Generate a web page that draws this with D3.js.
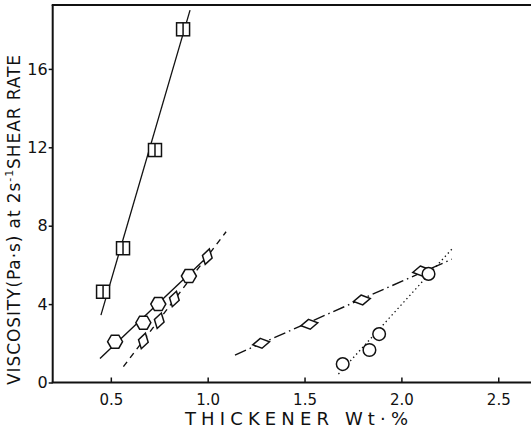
<!DOCTYPE html>
<html>
<head>
<meta charset="utf-8">
<script src="https://cdn.jsdelivr.net/npm/d3@7"></script>
<style>
  html, body { margin: 0; padding: 0; background: #fff; }
  svg { display: block; }
  text { font-family: "DejaVu Sans", sans-serif; fill: #111; }
</style>
</head>
<body>
<svg id="chart" width="531" height="435"></svg>
<script>
// Thickener concentration (wt %) vs viscosity (Pa·s) at 2 s^-1
const squareX  = [0.460, 0.563, 0.728, 0.873];
const squareY  = [4.63, 6.85, 11.86, 18.02];
const squareFitX = [0.449, 0.909];
const squareFitY = [3.44, 19.0];

const hexX  = [0.522, 0.668, 0.745, 0.903];
const hexY  = [2.08, 3.05, 4.00, 5.43];
const hexFitX = [0.444, 0.981];
const hexFitY = [1.23, 6.25];

const diamondAX = [0.668, 0.750, 0.828, 0.998];
const diamondAY = [2.12, 3.15, 4.26, 6.42];
const diamondAFitX = [0.565, 1.095];
const diamondAFitY = [0.81, 7.69];

const diamondBX = [1.276, 1.525, 1.796, 2.102];
const diamondBY = [2.00, 2.97, 4.21, 5.69];
const diamondBFitX = [1.141, 2.260];
const diamondBFitY = [1.40, 6.29];

const circleX = [1.697, 1.835, 1.885, 2.140];
const circleY = [0.94, 1.66, 2.47, 5.54];
const circleFitX = [1.675, 2.260];
const circleFitY = [0.43, 6.80];

const xTicks = [0.5, 1.0, 1.5, 2.0, 2.5];
const xTickLabels = ["0.5", "1.0", "1.5", "2.0", "2.5"];
const yTicks = [0, 4, 8, 12, 16];
const yTickLabels = ["0", "4", "8", "12", "16"];

const svg = d3.select("#chart");
const plotLeft = 52.7, plotRight = 531, plotTop = 5, plotBottom = 382.5;

const x = d3.scaleLinear().domain([0.2, 2.669]).range([plotLeft, plotRight]);
const y = d3.scaleLinear().domain([0, 19.26]).range([plotBottom, plotTop]);

const zip = (a, b) => a.map((v, i) => [v, b[i]]);
const line = d3.line().x(d => x(d[0])).y(d => y(d[1]));

// axes
const xAxis = d3.axisBottom(x).tickValues(xTicks)
  .tickFormat((d, i) => xTickLabels[i]).tickSize(-5).tickPadding(12);
const gx = svg.append("g").attr("transform", `translate(0,${plotBottom})`).call(xAxis);
gx.select(".domain").remove();
gx.selectAll(".tick line").attr("stroke", "#111").attr("stroke-width", 1.5);
gx.selectAll(".tick text").attr("font-size", 15).attr("font-family", "DejaVu Sans").attr("fill", "#111");

const yAxis = d3.axisLeft(y).tickValues(yTicks)
  .tickFormat((d, i) => yTickLabels[i]).tickSize(4).tickPadding(1);
const gy = svg.append("g").attr("transform", `translate(${plotLeft},0)`).call(yAxis);
gy.select(".domain").remove();
gy.selectAll(".tick line").attr("stroke", "#111").attr("stroke-width", 1.5);
gy.selectAll(".tick text").attr("font-size", 16).attr("font-family", "DejaVu Sans").attr("fill", "#111");

// frame: left, bottom and top edges
const frame = svg.append("g").attr("stroke", "#111").attr("stroke-width", 2).attr("fill", "none");
frame.append("line").attr("x1", plotLeft).attr("x2", plotLeft).attr("y1", plotTop).attr("y2", plotBottom);
frame.append("line").attr("x1", plotLeft - 1).attr("x2", plotRight).attr("y1", plotBottom).attr("y2", plotBottom);
frame.append("line").attr("x1", plotLeft - 1).attr("x2", plotRight).attr("y1", plotTop).attr("y2", plotTop);

// fit lines
const fits = [
  { xs: squareFitX, ys: squareFitY, dash: null, w: 1.3 },
  { xs: hexFitX, ys: hexFitY, dash: null, w: 1.4 },
  { xs: diamondAFitX, ys: diamondAFitY, dash: "6,5", w: 1.4 },
  { xs: diamondBFitX, ys: diamondBFitY, dash: "12,4,1.5,4", w: 1.4 },
  { xs: circleFitX, ys: circleFitY, dash: "1.4,3", w: 1.3 }
];
svg.append("g").selectAll("path").data(fits).join("path")
  .attr("d", d => line(zip(d.xs, d.ys)))
  .attr("fill", "none").attr("stroke", "#111")
  .attr("stroke-width", d => d.w)
  .attr("stroke-dasharray", d => d.dash);

// markers
const mk = svg.append("g").attr("stroke", "#111").attr("stroke-width", 1.5).attr("fill", "#fff");

// squares with a centre divider
const sq = mk.selectAll("g.sq").data(zip(squareX, squareY)).join("g")
  .attr("transform", d => `translate(${x(d[0])},${y(d[1])})`);
sq.append("rect").attr("x", -6.5).attr("y", -6.5).attr("width", 13).attr("height", 13);
sq.append("line").attr("x1", 0).attr("x2", 0).attr("y1", -6.5).attr("y2", 6.5);

// hexagons
const hexPath = (r) => {
  const pts = d3.range(6).map(k => {
    const a = Math.PI / 3 * k;
    return [r * Math.cos(a), r * Math.sin(a)];
  });
  return "M" + pts.map(p => p.join(",")).join("L") + "Z";
};
mk.selectAll("path.hex").data(zip(hexX, hexY)).join("path")
  .attr("d", hexPath(7.5))
  .attr("transform", d => `translate(${x(d[0])},${y(d[1])})`);

// tall diamonds
const diamond = (w, h) => `M0,${-h / 2}L${w / 2},0L0,${h / 2}L${-w / 2},0Z`;
mk.selectAll("path.da").data(zip(diamondAX, diamondAY)).join("path")
  .attr("d", diamond(10, 16))
  .attr("transform", d => `translate(${x(d[0])},${y(d[1])}) rotate(15)`);

// wide diamonds
mk.selectAll("path.db").data(zip(diamondBX, diamondBY)).join("path")
  .attr("d", diamond(17, 10))
  .attr("transform", d => `translate(${x(d[0])},${y(d[1])}) rotate(-10)`);

// circles
mk.selectAll("circle").data(zip(circleX, circleY)).join("circle")
  .attr("cx", d => x(d[0])).attr("cy", d => y(d[1])).attr("r", 6.3);

// axis titles
svg.append("text")
  .attr("x", 185).attr("y", 425)
  .attr("font-size", 18)
  .attr("textLength", 223).attr("lengthAdjust", "spacing")
  .text("THICKENER Wt·%");

const yt = svg.append("text")
  .attr("transform", "translate(19.5,385) rotate(-90)")
  .attr("font-size", 17)
  .attr("textLength", 330).attr("lengthAdjust", "spacing");
yt.append("tspan").text("VISCOSITY(Pa·s) at 2s");
yt.append("tspan").attr("font-size", 11).attr("dy", -7).text("-1");
yt.append("tspan").attr("dy", 7).text("SHEAR RATE");
</script>
</body>
</html>
